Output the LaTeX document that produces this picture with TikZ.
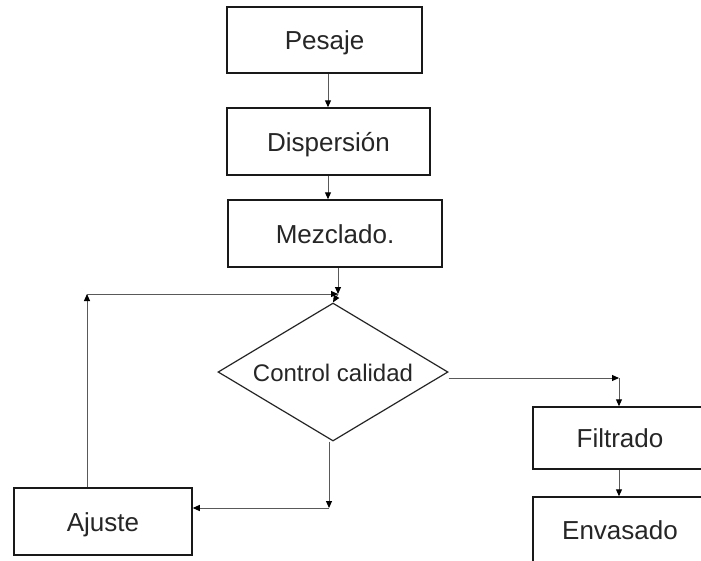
\documentclass[tikz,border=0pt]{standalone}
\usepackage{fontspec}
\setmainfont{Liberation Sans}
\usetikzlibrary{arrows.meta,shapes.geometric}
\begin{document}
\begin{tikzpicture}[x=1pt,y=-1pt,
  every node/.style={font=\fontsize{26}{30}\selectfont, text=black!85, text height=19pt, text depth=0pt},
  stepbox/.style={draw=black!90, line width=1.5pt, rectangle, inner sep=0pt},
  decision/.style={draw=black!85, line width=1.2pt, diamond, inner sep=0pt, aspect=1.667,
    font=\fontsize{24}{28}\selectfont, text height=18pt},
  flow/.style={draw=black!65, line width=1pt},
  arr/.style={flow, -{Triangle[length=7pt,width=6pt,fill=black,color=black]}}]
  \clip (0,0) rectangle (701,560);
  \fill[white] (0,0) rectangle (701,560);

  % process steps
  \node[stepbox, minimum width=195pt, minimum height=66pt] (pes) at (324.5,40) {Pesaje};
  \node[stepbox, minimum width=203pt, minimum height=67pt] (dis) at (328.5,141.5) {Dispersión};
  \node[stepbox, minimum width=214pt, minimum height=67pt] (mez) at (335,233.5) {Mezclado.};
  \node[decision, minimum width=230pt, minimum height=138pt] (ctl) at (333,372) {Control calidad};
  \node[stepbox, minimum width=178pt, minimum height=67pt] (aju) at (103,521.5) {Ajuste};
  \node[stepbox, minimum width=174pt, minimum height=62pt] (fil) at (620,438) {Filtrado};
  \node[stepbox, minimum width=174pt, minimum height=66pt] (env) at (620,530) {Envasado};

  % junction points of the routed connectors
  \coordinate (jtop) at (338,294);
  \coordinate (jleft) at (87,294);
  \coordinate (jdown) at (329,508);
  \coordinate (jright) at (619,378);

  % straight sequence
  \draw[arr] (pes.south -| 328,0) -- (dis.north -| 328,0);
  \draw[arr] (dis.south -| 328,0) -- (mez.north -| 328,0);
  \draw[arr] (mez.south -| jtop) -- (jtop);
  \draw[arr] (jtop) -- (ctl.north);

  % rejected batches go to adjustment and back
  \draw[arr] (ctl.south -| jdown) -- (jdown);
  \draw[arr] (jdown) -- (aju.east |- jdown);
  \draw[arr] (aju.north -| jleft) -- (jleft);
  \draw[arr] (jleft) -- (jtop);

  % approved batches continue
  \draw[arr] (ctl.east |- jright) -- (jright);
  \draw[arr] (jright) -- (fil.north -| jright);
  \draw[arr] (fil.south -| jright) -- (env.north -| jright);
\end{tikzpicture}
\end{document}
